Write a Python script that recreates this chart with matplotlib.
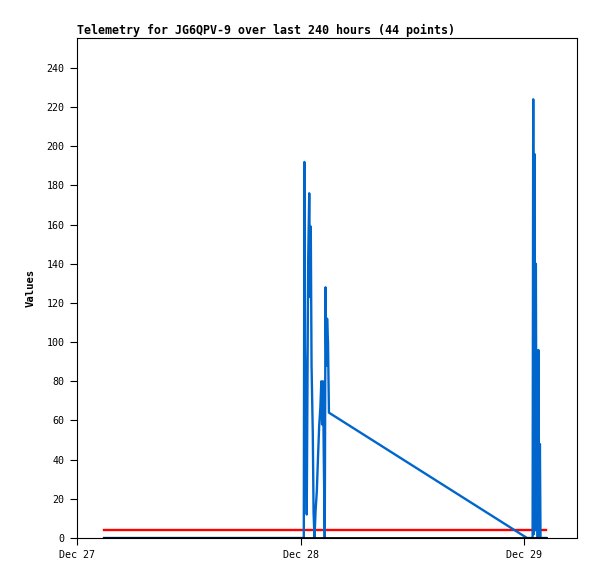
import matplotlib
matplotlib.use("Agg")
import matplotlib.pyplot as plt
import matplotlib.dates as mdates
import pandas as pd

# telemetry samples (blue series)
times = [
    "2023-12-27 02:54",
    "2023-12-28 00:21", "2023-12-28 00:25", "2023-12-28 00:29", "2023-12-28 00:34",
    "2023-12-28 00:40", "2023-12-28 00:49", "2023-12-28 00:56", "2023-12-28 01:02",
    "2023-12-28 01:06", "2023-12-28 01:11", "2023-12-28 01:19", "2023-12-28 01:24",
    "2023-12-28 01:30", "2023-12-28 01:37", "2023-12-28 01:45", "2023-12-28 01:52",
    "2023-12-28 02:00", "2023-12-28 02:08", "2023-12-28 02:14", "2023-12-28 02:19",
    "2023-12-28 02:25", "2023-12-28 02:30", "2023-12-28 02:36", "2023-12-28 02:41",
    "2023-12-28 02:46", "2023-12-28 02:51", "2023-12-28 02:57", "2023-12-28 03:03",
    "2023-12-29 00:19",
    "2023-12-29 00:55", "2023-12-29 00:59", "2023-12-29 01:03", "2023-12-29 01:08",
    "2023-12-29 01:11", "2023-12-29 01:16", "2023-12-29 01:20", "2023-12-29 01:24",
    "2023-12-29 01:28", "2023-12-29 01:32", "2023-12-29 01:37", "2023-12-29 01:42",
    "2023-12-29 01:46", "2023-12-29 02:22",
]
values = [
    0,
    0, 192, 97, 68,
    12, 140, 176, 123,
    159, 88, 53, 13,
    0, 14, 24, 40,
    57, 67, 80, 58,
    80, 40, 0, 128,
    88, 112, 100, 64,
    0,
    0, 224, 2, 196,
    4, 140, 28, 84,
    0, 96, 0, 48,
    0, 0,
]

# constant reference lines
ref_times = ["2023-12-27 02:54", "2023-12-29 02:22"]
red_values = [4, 4]
black_values = [0, 0]

x_ticks = ["2023-12-27", "2023-12-28", "2023-12-29"]
x_range = ["2023-12-27 00:00", "2023-12-29 05:41"]
y_ticks = list(range(0, 241, 20))

t = pd.to_datetime(times)
rt = pd.to_datetime(ref_times)

fig = plt.figure(figsize=(5.97, 5.79), dpi=100)
ax = fig.add_axes([77 / 597, 41 / 579, 500 / 597, 500 / 579])

ax.plot(rt, red_values, color="#ff0000", linewidth=1.7, zorder=2)
ax.plot(t, values, color="#0066cc", linewidth=1.7, zorder=3)
ax.plot(rt, black_values, color="#000000", linewidth=2.0, zorder=4)

ax.set_xlim(pd.to_datetime(x_range))
ax.set_ylim(0, 255.3)
ax.set_yticks(y_ticks)
ax.set_xticks(pd.to_datetime(x_ticks))
ax.xaxis.set_major_formatter(mdates.DateFormatter("%b %d"))

mono = "DejaVu Sans Mono"
for lbl in ax.get_xticklabels() + ax.get_yticklabels():
    lbl.set_fontfamily(mono)
    lbl.set_fontsize(7.2)
ax.tick_params(axis="both", direction="out", length=5, width=0.8, pad=4)

ax.set_ylabel("Values", fontfamily=mono, fontweight="bold", fontsize=7.6, labelpad=8)
ax.set_title("Telemetry for JG6QPV-9 over last 240 hours (44 points)",
             loc="left", fontfamily=mono, fontweight="bold", fontsize=8.4, pad=3)

for s in ax.spines.values():
    s.set_linewidth(0.8)

fig.savefig("out.png", dpi=100)
